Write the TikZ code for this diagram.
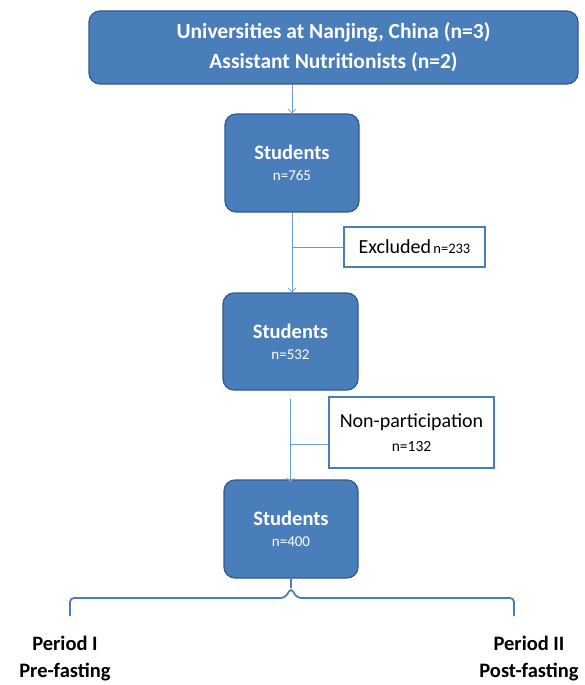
\documentclass[tikz,border=0pt]{standalone}
\usepackage{fontspec}
\setmainfont{Carlito}
\usetikzlibrary{arrows.meta}
\definecolor{boxfill}{HTML}{4A7EBB}
\definecolor{boxdraw}{HTML}{2F5A8C}
\definecolor{linec}{HTML}{6F9BD1}
\definecolor{sidedraw}{HTML}{4A7EBB}
\tikzset{
  bluebox/.style={draw=boxdraw, line width=1.2pt, fill=boxfill, rounded corners=11pt, text=white, align=center, inner sep=0pt},
  sidebox/.style={draw=sidedraw, line width=1.6pt, fill=white, align=center, inner sep=0pt},
  conn/.style={draw=linec, line width=0.9pt},
  arr/.style={conn, -{Straight Barb[length=4pt,width=8pt,line width=0.8pt]}},
  brace/.style={draw=boxfill, line width=1.8pt},
}
\newcommand{\stud}[1]{{\fontsize{20.5}{22}\selectfont\bfseries Students}\\[9pt]{\fontsize{15}{16}\selectfont n=#1}}
\begin{document}
\begin{tikzpicture}[x=1pt,y=-1pt]
\useasboundingbox (0,0) rectangle (584,685);
\node[bluebox, minimum width=489pt, minimum height=73pt, font=\fontsize{21.5}{30}\selectfont\bfseries] (top) at (333.5,47.5)
  {Universities at Nanjing, China (n=3)\\Assistant Nutritionists (n=2)};
\node[bluebox, minimum width=134pt, minimum height=98pt] (s1) at (292,163) {\stud{765}};
\node[sidebox, minimum width=141pt, minimum height=40pt] (ex) at (414.5,247)
  {{\fontsize{20}{21}\selectfont Excluded} {\fontsize{14.5}{15}\selectfont n=233}};
\node[bluebox, minimum width=135pt, minimum height=97pt] (s2) at (290.5,341.5) {\stud{532}};
\node[sidebox, minimum width=165pt, minimum height=71pt] (np) at (411.5,432.5)
  {{\fontsize{20}{21}\selectfont Non-participation}\\[9pt]{\fontsize{15.5}{16}\selectfont n=132}};
\node[bluebox, minimum width=134pt, minimum height=98pt] (s3) at (291,529) {\stud{400}};
\node[align=center, font=\fontsize{20.5}{27}\selectfont\bfseries] (p1) at (65,659) {Period I\\Pre-fasting};
\node[align=center, font=\fontsize{20.5}{27}\selectfont\bfseries] (p2) at (529,659) {Period II\\Post-fasting};
% connectors
\draw[arr] (s1.north |- top.south) -- (s1.north);
\draw[arr] (s1.south) -- (s1.south |- s2.north);
\draw[conn] (ex.west) -- (ex.west -| s1.south);
\coordinate (npb) at ([yshift=-12pt]np.west);
\draw[arr] (s2.south) ++(0,8) -- ([yshift=-3pt]s2.south |- s3.north);
\draw[conn] (npb) -- (npb -| s2.south);
% brace
\coordinate (bl) at (70,616);
\coordinate (br) at (514,616);
\draw[brace, rounded corners=4pt] (bl) |- (285,598) -- (291,588) -- (297,598) -| (br);
\draw[brace] (291,588) -- (s3.south);
\end{tikzpicture}
\end{document}
